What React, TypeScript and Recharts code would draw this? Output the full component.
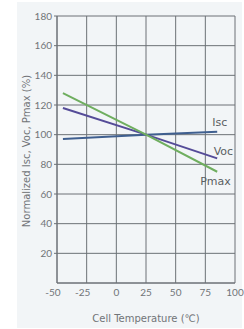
import React from 'react';
import { LineChart, Line, XAxis, YAxis, CartesianGrid } from 'recharts';

const temps = [-45, 25, 85];
const isc = [97, 100, 102];
const voc = [118, 100, 84];
const pmax = [128, 100, 75];
const xTicks = [-50, -25, 0, 25, 50, 75, 100];
const yTicks = [20, 40, 60, 80, 100, 120, 140, 160, 180];

const data = temps.map((t, i) => ({ t, isc: isc[i], voc: voc[i], pmax: pmax[i] }));

const FONT = '"DejaVu Sans", sans-serif';
const TICKFONT = 'Lato, "DejaVu Sans", sans-serif';
const GRID = '#6c7176';
const TEXT = '#717478';

const endLabel = (name: string, dx: number, dy: number) => (props: any) => {
  const { x, y, index } = props;
  if (index !== data.length - 1) return null;
  return (
    <text x={x + dx} y={y + dy} fontSize={11} fill="#5a5e62" fontFamily={FONT}>
      {name}
    </text>
  );
};

const XTick = (props: any) => {
  const { x, y, payload } = props;
  const shift = payload.value < 0 ? -4 : 0;
  return (
    <text x={x + shift} y={y} dy="0.71em" textAnchor="middle" fontSize={10} fill={TEXT} fontFamily={TICKFONT}>
      {payload.value}
    </text>
  );
};

export default function App() {
  return (
    <div style={{ position: 'absolute', left: 0, top: 0, width: 244, height: 329 }}>
      <div style={{ position: 'absolute', left: 17, top: 2, width: 225, height: 326, background: '#f2f5f7' }} />
      <div style={{ position: 'absolute', left: 0, top: 0 }}>
        <LineChart width={244} height={329} data={data} margin={{ top: 16, right: 9, bottom: 0, left: 17 }}>
          <CartesianGrid stroke={GRID} strokeWidth={1} />
          <XAxis
            dataKey="t"
            type="number"
            domain={[-50, 100]}
            ticks={xTicks}
            interval={0}
            height={46}
            axisLine={{ stroke: GRID }}
            tickLine={false}
            tickSize={0}
            tickMargin={6}
            tick={<XTick />}
            label={{
              content: (p: any) => {
                const vb = p.viewBox;
                return (
                  <text x={vb.x + vb.width / 2} y={322} textAnchor="middle" fontSize={10} fill={TEXT} fontFamily={FONT}>
                    Cell Temperature (℃)
                  </text>
                );
              },
            }}
          />
          <YAxis
            type="number"
            domain={[0, 180]}
            ticks={yTicks}
            interval={0}
            width={40}
            axisLine={{ stroke: GRID }}
            tickLine={{ stroke: GRID }}
            tickSize={3}
            tickMargin={2}
            tick={{ fontSize: 10, fill: TEXT, fontFamily: TICKFONT }}
            label={{
              content: () => (
                <text
                  x={30}
                  y={151}
                  transform="rotate(-90 30 151)"
                  textAnchor="middle"
                  fontSize={10}
                  fill={TEXT}
                  fontFamily={FONT}
                >
                  Normalized Isc, Voc, Pmax (%)
                </text>
              ),
            }}
          />
          <Line dataKey="isc" stroke="#3f5f8f" strokeWidth={2} dot={false} isAnimationActive={false} label={endLabel('Isc', -5, -6)} />
          <Line dataKey="voc" stroke="#554c98" strokeWidth={2} dot={false} isAnimationActive={false} label={endLabel('Voc', -3.5, -3)} />
          <Line dataKey="pmax" stroke="#6fae5f" strokeWidth={2} dot={false} isAnimationActive={false} label={endLabel('Pmax', -17, 13)} />
        </LineChart>
      </div>
    </div>
  );
}
